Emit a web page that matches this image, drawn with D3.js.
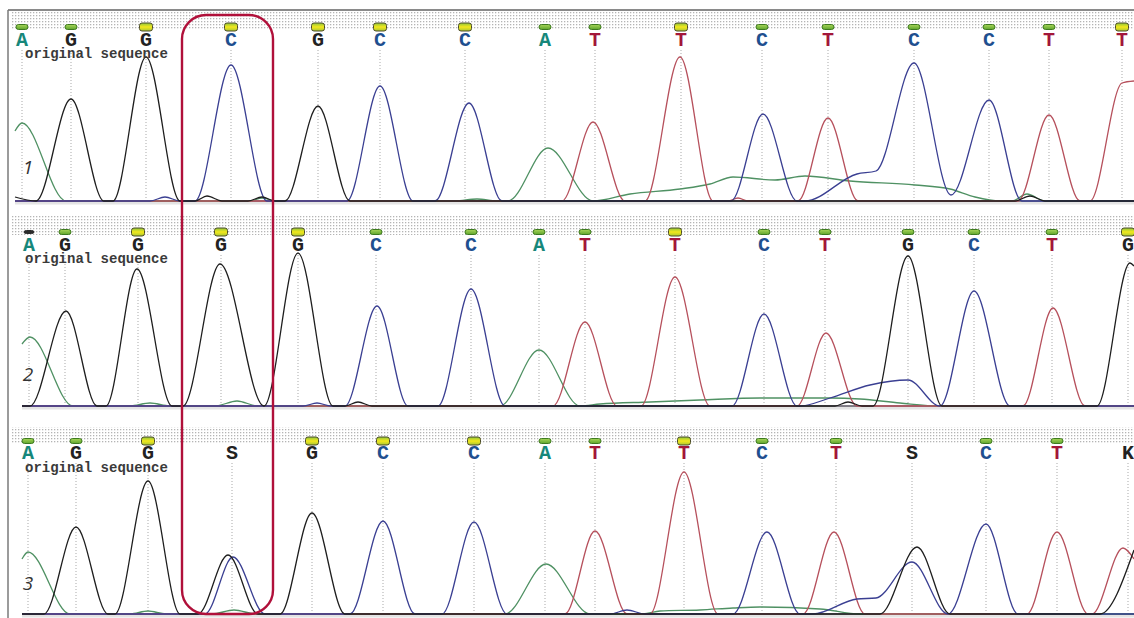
<!DOCTYPE html>
<html>
<head>
<meta charset="utf-8">
<script src="https://cdn.jsdelivr.net/npm/d3@7"></script>
<style>
  html, body { margin: 0; padding: 0; background: #fff; }
  svg { display: block; }
</style>
</head>
<body>
<svg id="chart" width="1134" height="618"></svg>
<script>
// base calls, peak positions (scan units) and call quality per read
const bases1 = ['A','G','G','C','G','C','C','A','T','T','C','T','C','C','T','T']
const pos1   = [22, 71, 146, 231, 318, 380, 465, 545, 595, 681, 762, 828, 914, 989, 1049, 1122]
const qual1  = ['g','g','y','y','y','y','y','g','g','y','g','g','g','g','g','y']

const bases2 = ['A','G','G','G','G','C','C','A','T','T','C','T','G','C','T','G']
const pos2   = [29, 65, 138, 221, 298, 376, 471, 539, 585, 675, 764, 825, 908, 974, 1052, 1128]
const qual2  = ['d','g','y','y','y','g','g','g','g','y','g','g','g','g','g','y']

const bases3 = ['A','G','G','S','G','C','C','A','T','T','C','T','S','C','T','K']
const pos3   = [28, 76, 148, 232, 312, 383, 474, 545, 595, 684, 762, 836, 912, 986, 1057, 1128]
const qual3  = ['g','g','y','','y','y','y','g','g','y','g','g','','g','g','']

// trace vertices [scan, signal] per dye channel
const traceA1 = [[15,70],[22,78],[66,0],[250,0],[262,3],[276,0],[455,0],[477,2],[497,0],[508,0],[548,53],[593,0],[630,7],[680,12],[710,17],[733,24],[775,21],[805,25],[850,20],[915,16],[950,12],[975,4],[1000,0],[1012,0],[1027,7],[1045,0],[1134,0]]
const traceC1 = [[15,0],[150,0],[165,4],[180,0],[195,0],[231,136],[267,0],[347,0],[380,115],[413,0],[435,0],[469,98],[502,0],[731,0],[763,87],[797,0],[805,0],[857,27],[876,30],[914,138],[951,6],[989,101],[1022,0],[1134,0]]
const traceG1 = [[15,4],[36,0],[71,102],[104,0],[113,0],[146,144],[180,0],[195,0],[207,5],[222,0],[248,0],[262,4],[275,0],[285,0],[318,95],[350,0],[1015,0],[1030,5],[1045,0],[1134,0]]
const traceT1 = [[15,0],[562,0],[593,79],[625,0],[645,0],[680,144],[713,0],[728,0],[738,3],[748,0],[798,0],[828,83],[858,0],[1018,0],[1049,86],[1080,0],[1090,0],[1122,118],[1134,120]]

const traceA2 = [[22,62],[30,69],[73,0],[130,0],[150,3],[170,0],[215,0],[237,5],[258,0],[500,0],[539,56],[580,0],[600,2],[650,4],[700,6],[760,8],[830,8],[860,7],[900,3],[940,0],[1134,0]]
const traceC2 = [[22,0],[303,0],[317,3],[331,0],[345,0],[377,100],[408,0],[438,0],[471,117],[505,0],[732,0],[764,92],[797,0],[800,0],[830,8],[870,21],[908,26],[940,0],[974,115],[1010,0],[1134,0]]
const traceG2 = [[22,0],[30,0],[66,95],[97,0],[106,0],[137,137],[172,0],[183,0],[220,142],[264,0],[298,153],[333,0],[345,0],[358,4],[372,0],[835,0],[848,4],[862,0],[873,0],[908,150],[942,0],[1097,0],[1130,143],[1134,140]]
const traceT2 = [[22,0],[553,0],[585,84],[617,0],[641,0],[675,129],[710,0],[797,0],[826,73],[857,0],[1023,0],[1053,98],[1085,0],[1134,0]]

const traceA3 = [[22,55],[28,62],[70,0],[130,0],[148,3],[166,0],[212,0],[234,4],[256,0],[505,0],[546,50],[590,0],[643,0],[660,3],[700,4],[733,6],[760,7],[820,5],[860,0],[1134,0]]
const traceC3 = [[22,0],[205,0],[233,57],[265,0],[350,0],[383,93],[415,0],[442,0],[474,92],[507,0],[610,0],[627,4],[645,0],[733,0],[767,82],[800,0],[813,0],[857,15],[876,16],[912,52],[948,0],[986,90],[1018,0],[1134,0]]
const traceG3 = [[22,0],[44,0],[76,87],[108,0],[115,0],[148,133],[180,0],[198,0],[228,59],[258,0],[280,0],[312,101],[345,0],[880,0],[917,67],[950,0],[1100,0],[1134,64]]
const traceT3 = [[22,0],[565,0],[595,83],[627,0],[650,0],[684,142],[718,0],[803,0],[834,82],[865,0],[1027,0],[1057,82],[1088,0],[1092,0],[1123,66],[1134,55]]

const snpIndex = 3 // column boxed in red

const reads = [
  { label: '1', bases: bases1, pos: pos1, qual: qual1, traces: { A: traceA1, T: traceT1, C: traceC1, G: traceG1 } },
  { label: '2', bases: bases2, pos: pos2, qual: qual2, traces: { A: traceA2, T: traceT2, C: traceC2, G: traceG2 } },
  { label: '3', bases: bases3, pos: pos3, qual: qual3, traces: { A: traceA3, T: traceT3, C: traceC3, G: traceG3 } }
]

const layout = [
  { bandTop: 12, markerY: 27, letterY: 46, captionY: 58, baseline: 201, numY: 174 },
  { bandTop: 216, markerY: 232, letterY: 251, captionY: 263, baseline: 406, numY: 381 },
  { bandTop: 427, markerY: 441, letterY: 459, captionY: 472, baseline: 614, numY: 590 }
]

const traceColor = { A: '#4f9163', C: '#3a3f92', G: '#1e1e1e', T: '#b6505c' }
const letterColor = { A: '#17877a', C: '#1f4f8f', G: '#222', T: '#a3163a', S: '#222', K: '#222' }

const svg = d3.select('#chart')
const W = +svg.attr('width')
const H = +svg.attr('height')

const x = d3.scaleLinear().domain([0, W]).range([0, W])

const defs = svg.append('defs')
const dots = defs.append('pattern')
  .attr('id', 'dots').attr('width', 3).attr('height', 3)
  .attr('patternUnits', 'userSpaceOnUse')
dots.append('rect').attr('width', 1.3).attr('height', 1.3).attr('fill', '#b4b4b4')

const gradY = defs.append('linearGradient').attr('id', 'qualHigh')
  .attr('x1', 0).attr('y1', 0).attr('x2', 0).attr('y2', 1)
gradY.append('stop').attr('offset', '0%').attr('stop-color', '#8cc43c')
gradY.append('stop').attr('offset', '50%').attr('stop-color', '#f4e81c')
gradY.append('stop').attr('offset', '100%').attr('stop-color', '#a9c832')

const gradG = defs.append('linearGradient').attr('id', 'qualMid')
  .attr('x1', 0).attr('y1', 0).attr('x2', 0).attr('y2', 1)
gradG.append('stop').attr('offset', '0%').attr('stop-color', '#a8d65a')
gradG.append('stop').attr('offset', '100%').attr('stop-color', '#5fa52c')

defs.append('clipPath').attr('id', 'plotClip')
  .append('rect').attr('x', 9).attr('y', 0).attr('width', W - 9).attr('height', H)

const markerStyle = {
  y: { w: 13, h: 8, fill: 'url(#qualHigh)', stroke: '#4d4d2a' },
  g: { w: 12, h: 5, fill: 'url(#qualMid)', stroke: '#3d7a1f' },
  d: { w: 10, h: 3, fill: '#2b2b2b', stroke: '#2b2b2b' }
}

reads.forEach((read, i) => drawRead(read, layout[i]))

function drawRead (read, lay) {
  const y = d3.scaleLinear().domain([0, 160]).range([lay.baseline, lay.baseline - 160])
  const g = svg.append('g').attr('clip-path', 'url(#plotClip)')

  // dotted header band
  g.append('rect')
    .attr('x', 12).attr('y', lay.bandTop)
    .attr('width', W - 12).attr('height', lay.markerY - lay.bandTop + 3)
    .attr('fill', 'url(#dots)')

  // guide lines under each call
  g.selectAll('.guide').data(read.pos).join('line')
    .attr('class', 'guide')
    .attr('x1', d => x(d)).attr('x2', d => x(d))
    .attr('y1', lay.letterY + 4).attr('y2', lay.baseline)
    .attr('stroke', '#a9a9a9').attr('stroke-width', 1)
    .attr('stroke-dasharray', '1,2')

  // baseline
  const start = d3.min(Object.values(read.traces), t => t[0][0])
  g.append('rect')
    .attr('x', x(start)).attr('y', lay.baseline + 0.5)
    .attr('width', W - x(start)).attr('height', 3)
    .attr('fill', '#e4e4e4')
  g.append('line')
    .attr('x1', x(start)).attr('x2', W)
    .attr('y1', lay.baseline).attr('y2', lay.baseline)
    .attr('stroke', '#5a5560').attr('stroke-width', 1.6)

  // traces
  const line = d3.line()
    .curve(d3.curveMonotoneX)
    .x(d => x(d[0]))
    .y(d => y(d[1]))

  Object.entries(read.traces).forEach(([ch, pts]) => {
    g.append('path')
      .datum(pts)
      .attr('d', line)
      .attr('fill', 'none')
      .attr('stroke', traceColor[ch])
      .attr('stroke-width', 1.3)
      .attr('stroke-linejoin', 'round')
  })

  // quality markers
  const calls = read.bases.map((b, k) => ({ b, p: read.pos[k], q: read.qual[k] }))
  g.selectAll('.qmark').data(calls.filter(d => d.q)).join('rect')
    .attr('class', 'qmark')
    .attr('x', d => x(d.p) - markerStyle[d.q].w / 2)
    .attr('y', d => lay.markerY - markerStyle[d.q].h / 2)
    .attr('width', d => markerStyle[d.q].w)
    .attr('height', d => markerStyle[d.q].h)
    .attr('rx', 2.5)
    .attr('fill', d => markerStyle[d.q].fill)
    .attr('stroke', d => markerStyle[d.q].stroke)
    .attr('stroke-width', 1)

  // base letters
  g.selectAll('.call').data(calls).join('text')
    .attr('class', 'call')
    .attr('x', d => x(d.p))
    .attr('y', lay.letterY)
    .attr('text-anchor', 'middle')
    .attr('font-family', '"Liberation Mono", "Courier New", monospace')
    .attr('font-weight', 'bold')
    .attr('font-size', 20)
    .attr('fill', d => letterColor[d.b])
    .text(d => d.b)

  svg.append('text')
    .attr('x', 25).attr('y', lay.captionY)
    .attr('font-family', '"Liberation Mono", "Courier New", monospace')
    .attr('font-weight', 'bold')
    .attr('font-size', 14)
    .attr('fill', '#3a3a3a')
    .text('original sequence')

  svg.append('text')
    .attr('x', 28).attr('y', lay.numY)
    .attr('text-anchor', 'middle')
    .attr('font-family', '"Open Sans", "DejaVu Sans", sans-serif')
    .attr('font-style', 'italic')
    .attr('font-size', 19)
    .attr('fill', '#333')
    .text(read.label)
}

// frame
svg.append('line')
  .attr('x1', 8).attr('x2', W).attr('y1', 10).attr('y2', 10)
  .attr('stroke', '#8a8a8a').attr('stroke-width', 2)
svg.append('line')
  .attr('x1', 8).attr('x2', 8).attr('y1', 10).attr('y2', H)
  .attr('stroke', '#7a7a7a').attr('stroke-width', 1.5)

// red box around the variant column
const snpX = d3.mean(reads, r => x(r.pos[snpIndex]))
svg.append('rect')
  .attr('x', snpX - 46).attr('y', 15)
  .attr('width', 91).attr('height', layout[2].baseline - 15)
  .attr('rx', 24)
  .attr('fill', 'none')
  .attr('stroke', '#b0103a')
  .attr('stroke-width', 2.4)
</script>
</body>
</html>
